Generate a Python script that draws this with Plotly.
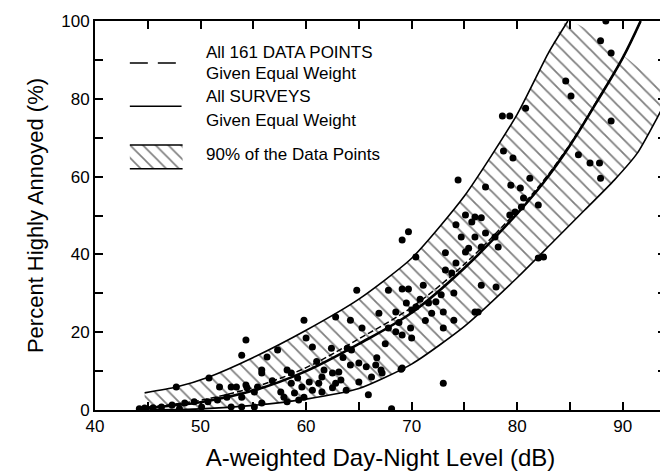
import plotly.graph_objects as go

# ---------------- data ----------------
# Data points: A-weighted DNL (dB) vs percent highly annoyed (%)
pts_x = [
    88.4, 87.9, 88.9, 84.6, 85.1, 88.9, 80.8, 78.6, 79.3, 78.7, 79.6, 85.8, 86.9, 87.8, 87.9,
    81.2, 77.0, 79.4, 80.3, 80.6, 82.0, 79.8, 79.3, 80.4, 76.6, 77.0, 77.9, 78.2, 76.6,
    74.4, 75.1, 76.0, 75.7, 74.2, 74.7, 76.0, 69.7, 69.1, 75.4, 73.2, 82.0, 82.5, 78.0, 76.3,
    70.4, 74.2, 75.1, 73.2, 73.8, 76.6, 71.1, 74.0, 72.8, 64.8, 67.8, 69.1, 69.7, 69.5, 70.4,
    70.0, 71.6, 72.3, 73.0, 71.9, 74.0, 73.0, 76.0, 66.9, 68.5, 64.2, 62.8, 65.3, 67.8, 68.5,
    69.1, 69.9, 70.0, 59.8, 60.0, 60.6, 62.4, 63.9, 64.3, 66.7, 65.0, 64.2, 65.7, 66.6, 67.1,
    69.1, 63.1, 62.5, 61.7, 61.5, 58.6, 59.2, 60.3, 61.2, 62.8, 63.3, 65.0, 66.2, 67.2, 59.6,
    60.6, 61.5, 62.5, 63.8, 58.9, 59.8, 65.9, 73.0, 68.1, 59.3, 69.0, 68.8, 70.8, 71.3, 67.5,
    54.3, 53.9, 57.3, 56.3, 55.8, 55.8, 58.2, 50.8, 47.7, 51.8, 52.9, 53.4, 54.3, 54.4, 55.4,
    55.1, 57.6, 57.9, 58.6, 52.5, 53.9, 50.7, 51.6, 49.4, 48.5, 47.3, 46.3, 44.7, 44.2, 48.0,
    50.1, 53.9, 55.8, 58.2, 55.1, 52.9, 45.5, 56.8, 61.0, 63.5,
]
pts_y = [
    100.0, 94.9, 91.8, 84.6, 80.7, 74.3, 77.6, 75.6, 75.6, 66.6, 64.8, 65.6, 63.5, 63.5, 59.6,
    59.6, 57.3, 57.8, 57.1, 54.5, 52.7, 50.9, 50.1, 52.2, 49.4, 45.5, 44.5, 41.9, 41.9,
    59.1, 50.1, 49.6, 48.3, 47.6, 44.5, 44.5, 45.8, 43.7, 41.6, 40.4, 39.1, 39.3, 31.6, 25.2,
    39.3, 37.8, 40.6, 36.0, 35.2, 32.1, 32.1, 30.1, 29.6, 30.8, 30.8, 31.1, 31.1, 27.5, 26.5,
    25.7, 27.5, 27.8, 25.2, 24.9, 23.1, 21.1, 25.2, 24.9, 25.2, 23.1, 23.9, 21.1, 21.1, 20.1,
    19.3, 21.1, 18.5, 23.1, 18.5, 16.2, 15.9, 15.9, 15.4, 13.4, 12.1, 11.6, 11.1, 11.6, 10.3,
    10.8, 9.8, 9.5, 10.3, 8.5, 9.5, 8.2, 7.2, 6.9, 6.9, 7.7, 7.2, 8.5, 9.5, 5.9,
    5.1, 4.6, 5.7, 5.1, 4.4, 3.3, 3.9, 6.9, 0.3, 2.6, 10.5, 22.5, 28.5, 23.0, 17.0,
    18.0, 14.1, 15.4, 13.6, 10.3, 9.5, 10.3, 8.2, 5.9, 5.9, 5.9, 5.9, 6.4, 5.7, 5.9,
    4.6, 4.6, 3.3, 6.9, 3.3, 3.3, 2.1, 2.6, 2.1, 1.8, 1.3, 0.8, 0.5, 0.3, 0.3,
    0.8, 0.8, 1.8, 2.1, 0.8, 0.8, 0.6, 7.5, 12.5, 13.5,
]

# Fitted curve, all surveys given equal weight (solid)
surv_x = [44.2, 47.5, 50, 55, 60, 65, 70, 75, 80, 82.5, 85, 87.5, 90, 91.7]
surv_y = [0.3, 1.2, 2.0, 5.0, 10.0, 17.0, 25.0, 36.5, 50.5, 58.5, 68.0, 79.0, 90.5, 100.0]

# Fitted curve, all 161 data points given equal weight (dashed)
all_x = [44.2, 47.5, 50, 55, 60, 65, 70, 75, 80, 82.5, 85, 87.5, 90, 91.7]
all_y = [0.5, 1.5, 2.5, 5.8, 10.9, 18.3, 26.4, 37.5, 51.2, 59.0, 68.3, 79.2, 90.5, 100.0]

# 90 % band boundaries
upper_x = [44.7, 47.7, 50.8, 55, 60, 65, 70, 75, 80, 83, 84.8]
upper_y = [4.4, 5.9, 8.5, 13.5, 20.5, 28.5, 39.0, 55.0, 76.0, 92.0, 100.0]
lower_x = [44.7, 50, 55, 60, 65, 70, 75, 80, 83.5, 86.4, 89.2, 91.4, 93.3, 94.3]
lower_y = [0.0, 0.3, 1.2, 2.8, 5.5, 11.8, 21.5, 34.0, 43.5, 51.4, 59.1, 66.1, 75.3, 80.5]

x_ticks = [40, 50, 60, 70, 80, 90]
y_ticks = [0, 20, 40, 60, 80, 100]

legend_labels = ["All 161 DATA POINTS", "Given Equal Weight",
                 "All SURVEYS", "Given Equal Weight",
                 "90% of the Data Points"]

# ---------------- figure ----------------
FONT = "Liberation Sans, Arial, sans-serif"
fig = go.Figure()

# hatched band (polygon: upper forward, lower backward)
band_x = upper_x + lower_x[::-1]
band_y = upper_y + lower_y[::-1]
fig.add_trace(go.Scatter(
    x=band_x, y=band_y, mode="lines", fill="toself",
    line=dict(color="rgba(0,0,0,0)", width=0, shape="spline", smoothing=0.6),
    fillcolor="white",
    fillpattern=dict(shape="\\", fgcolor="black", bgcolor="white", size=10, solidity=0.18),
    hoverinfo="skip", showlegend=False))
fig.add_trace(go.Scatter(x=upper_x, y=upper_y, mode="lines",
                         line=dict(color="black", width=1.6, shape="spline", smoothing=0.6),
                         showlegend=False, hoverinfo="skip"))
fig.add_trace(go.Scatter(x=lower_x, y=lower_y, mode="lines",
                         line=dict(color="black", width=1.6, shape="spline", smoothing=0.6),
                         showlegend=False, hoverinfo="skip"))

# data points
fig.add_trace(go.Scatter(x=pts_x, y=pts_y, mode="markers",
                         marker=dict(color="black", size=7, symbol="circle"),
                         cliponaxis=True, showlegend=False))

# fitted curves
fig.add_trace(go.Scatter(x=all_x, y=all_y, mode="lines",
                         line=dict(color="black", width=1.5, dash="6px,3px", shape="spline"),
                         showlegend=False, hoverinfo="skip"))
fig.add_trace(go.Scatter(x=surv_x, y=surv_y, mode="lines",
                         line=dict(color="black", width=2.6, shape="spline"),
                         showlegend=False, hoverinfo="skip"))

# ---- hand-drawn legend (in data coordinates) ----
fig.add_trace(go.Scatter(x=[43.3, 48.2], y=[89.2, 89.2], mode="lines",
                         line=dict(color="black", width=1.5, dash="18px,10px"),
                         showlegend=False, hoverinfo="skip"))
fig.add_trace(go.Scatter(x=[43.3, 48.2], y=[78.1, 78.1], mode="lines",
                         line=dict(color="black", width=1.5),
                         showlegend=False, hoverinfo="skip"))
fig.add_trace(go.Scatter(x=[43.3, 48.3, 48.3, 43.3, 43.3], y=[68.1, 68.1, 62.0, 62.0, 68.1],
                         mode="lines", fill="toself", line=dict(width=0, color="rgba(0,0,0,0)"),
                         fillcolor="white",
                         fillpattern=dict(shape="\\", fgcolor="black", bgcolor="white", size=9, solidity=0.18),
                         showlegend=False, hoverinfo="skip"))
fig.add_trace(go.Scatter(x=[43.3, 48.3], y=[68.1, 68.1], mode="lines",
                         line=dict(color="black", width=1.5), showlegend=False, hoverinfo="skip"))
fig.add_trace(go.Scatter(x=[43.3, 48.3], y=[62.0, 62.0], mode="lines",
                         line=dict(color="black", width=1.5), showlegend=False, hoverinfo="skip"))

leg_y = [91.8, 86.4, 80.5, 74.5, 65.6]
for txt, yy in zip(legend_labels, leg_y):
    fig.add_annotation(x=50.3, y=yy, xref="x", yref="y", text=txt, showarrow=False,
                       xanchor="left", yanchor="middle",
                       font=dict(family=FONT, size=17, color="black"))

# the page has an 8 px body margin, so the figure is sized to fit the window
fig.update_layout(
    width=660, height=468,
    margin=dict(l=87, r=0, t=13, b=66),
    paper_bgcolor="white", plot_bgcolor="white",
    font=dict(family=FONT, color="black"),
    showlegend=False,
)
fig.update_xaxes(
    range=[40, 94.1], tickvals=x_ticks, ticks="inside", ticklen=8, tickwidth=1.5,
    tickcolor="black", showgrid=False, zeroline=False,
    showline=True, linecolor="black", linewidth=2, mirror="ticks",
    minor=dict(dtick=5, tick0=40, ticks="inside", ticklen=8, tickwidth=1.5, tickcolor="black"),
    tickfont=dict(family=FONT, size=17, color="black"),
    title=dict(text="A-weighted Day-Night Level (dB)", standoff=14,
               font=dict(family=FONT, size=24, color="black")),
)
fig.update_yaxes(
    range=[0, 100], tickvals=y_ticks, ticks="inside", ticklen=8, tickwidth=1.5,
    tickcolor="black", showgrid=False, zeroline=False,
    showline=True, linecolor="black", linewidth=2, mirror="ticks",
    minor=dict(dtick=10, tick0=0, ticks="inside", ticklen=8, tickwidth=1.5, tickcolor="black"),
    tickfont=dict(family=FONT, size=17, color="black"),
    title=dict(text="Percent Highly Annoyed (%)", standoff=12,
               font=dict(family=FONT, size=22, color="black")),
)

fig.write_html("out.html")
